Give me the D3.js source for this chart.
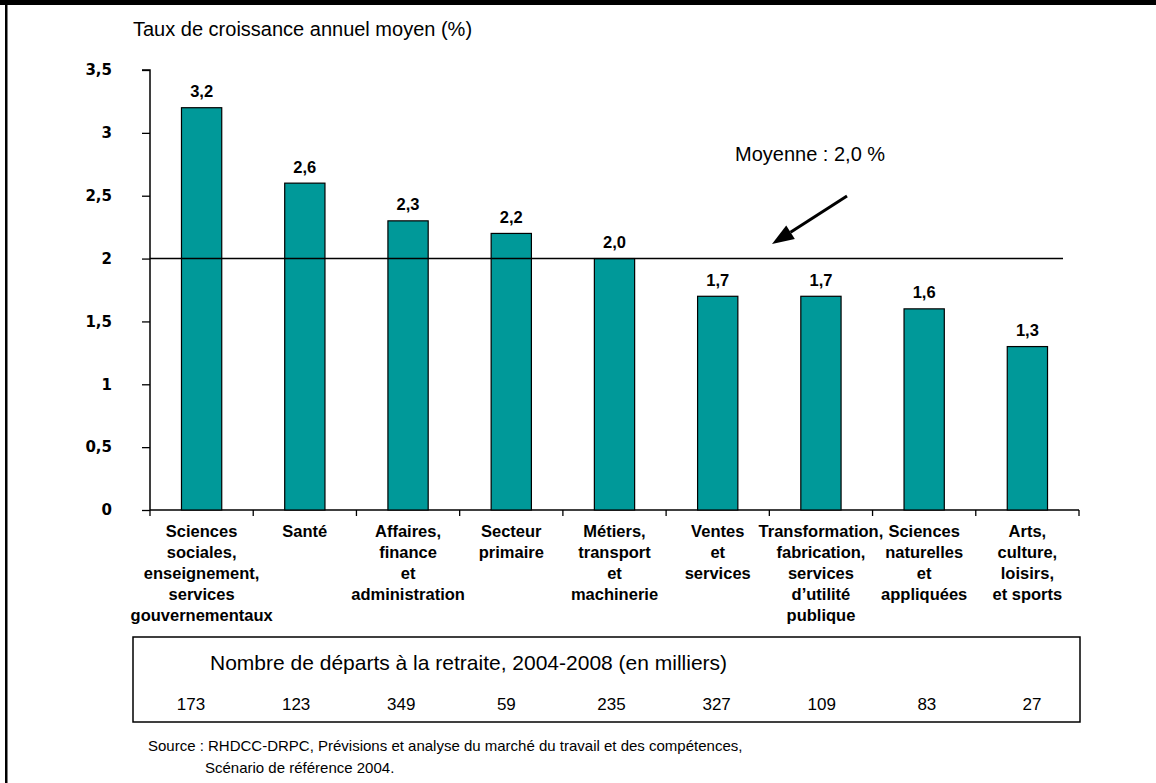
<!DOCTYPE html>
<html lang="fr">
<head>
<meta charset="utf-8">
<script src="https://cdn.jsdelivr.net/npm/d3@7"></script>
<style>
  html, body { margin: 0; padding: 0; background: #fff; }
  svg { display: block; font-family: Arial, "Liberation Sans", sans-serif; }
</style>
</head>
<body>
<svg id="chart" width="1156" height="783"></svg>
<script>
// Occupational groups (multi-line labels)
const categories = [
  ["Sciences", "sociales,", "enseignement,", "services", "gouvernementaux"],
  ["Santé"],
  ["Affaires,", "finance", "et", "administration"],
  ["Secteur", "primaire"],
  ["Métiers,", "transport", "et", "machinerie"],
  ["Ventes", "et", "services"],
  ["Transformation,", "fabrication,", "services", "d’utilité", "publique"],
  ["Sciences", "naturelles", "et", "appliquées"],
  ["Arts,", "culture,", "loisirs,", "et sports"]
];
// Average annual growth rate (%)
const growth = [3.2, 2.6, 2.3, 2.2, 2.0, 1.7, 1.7, 1.6, 1.3];
// Retirements 2004-2008 (thousands)
const retirements = [173, 123, 349, 59, 235, 327, 109, 83, 27];
const average = 2.0;
const yTicks = [0, 0.5, 1, 1.5, 2, 2.5, 3, 3.5];

const fmt = v => String(v).replace(".", ",");
const fmt1 = v => v.toFixed(1).replace(".", ",");

const svg = d3.select("#chart");

// outer frame: thick top edge, left edge
svg.append("rect").attr("x", 0).attr("y", 0).attr("width", 1156).attr("height", 5).attr("fill", "#000");
svg.append("rect").attr("x", 5).attr("y", 0).attr("width", 2.5).attr("height", 783).attr("fill", "#000");

const x = d3.scaleBand().domain(d3.range(categories.length)).range([150, 1079]);
const y = d3.scaleLinear().domain([0, 3.5]).range([510, 70]);
const barW = x.bandwidth() * 0.39;
const cx = i => x(i) + x.bandwidth() / 2;

// y axis title
svg.append("text").attr("x", 133).attr("y", 36).attr("font-size", 20)
  .text("Taux de croissance annuel moyen (%)");

// y axis
const yAxis = d3.axisLeft(y).tickValues(yTicks).tickFormat(fmt).tickSize(8).tickPadding(30);
const gy = svg.append("g").attr("transform", "translate(150,0)").call(yAxis);
gy.select(".domain").attr("stroke", "#000").attr("stroke-width", 1.5).attr("d", `M-8,${y(3.5)}H0V${y(0)}`);
gy.selectAll(".tick line").attr("stroke", "#000").attr("stroke-width", 1.3);
gy.selectAll(".tick text").attr("font-family", "'DejaVu Sans', Verdana, sans-serif")
  .attr("font-weight", "bold").attr("font-size", 15).attr("fill", "#000");

// x axis baseline with category boundary ticks
const boundaries = d3.range(categories.length).map(i => x(i)).concat([x.range()[1]]);
svg.append("line").attr("x1", 150).attr("x2", 1079).attr("y1", y(0)).attr("y2", y(0))
  .attr("stroke", "#000").attr("stroke-width", 1.5);
svg.append("g").selectAll("line").data(boundaries).join("line")
  .attr("x1", d => d).attr("x2", d => d).attr("y1", y(0)).attr("y2", y(0) + 6)
  .attr("stroke", "#000").attr("stroke-width", 1.3);

// bars
svg.append("g").selectAll("rect").data(growth).join("rect")
  .attr("x", (d, i) => cx(i) - barW / 2)
  .attr("y", d => y(d))
  .attr("width", barW)
  .attr("height", d => y(0) - y(d))
  .attr("fill", "#009999")
  .attr("stroke", "#000")
  .attr("stroke-width", 1.2);

// value labels
svg.append("g").selectAll("text").data(growth).join("text")
  .attr("x", (d, i) => cx(i))
  .attr("y", d => y(d) - 10.5)
  .attr("text-anchor", "middle")
  .attr("font-weight", "bold").attr("font-size", 16.5)
  .text(fmt1);

// average line
svg.append("line").attr("x1", 150).attr("x2", 1063).attr("y1", y(average)).attr("y2", y(average))
  .attr("stroke", "#000").attr("stroke-width", 1.5);

// arrow pointing at the average line
const a0 = [847, 196], a1 = [772, 244];
const ang = Math.atan2(a1[1] - a0[1], a1[0] - a0[0]);
const headLen = 22, headHalf = 8;
const base = [a1[0] - headLen * Math.cos(ang), a1[1] - headLen * Math.sin(ang)];
svg.append("line").attr("x1", a0[0]).attr("y1", a0[1]).attr("x2", base[0]).attr("y2", base[1])
  .attr("stroke", "#000").attr("stroke-width", 3);
svg.append("path")
  .attr("d", d3.line()([
    a1,
    [base[0] + headHalf * Math.sin(ang), base[1] - headHalf * Math.cos(ang)],
    [base[0] - headHalf * Math.sin(ang), base[1] + headHalf * Math.cos(ang)]
  ]) + "Z")
  .attr("fill", "#000");
svg.append("text").attr("x", 735).attr("y", 161).attr("font-size", 20)
  .text("Moyenne : " + fmt1(average) + " %");

// category labels
const cat = svg.append("g").selectAll("text").data(categories).join("text")
  .attr("text-anchor", "middle")
  .attr("font-weight", "bold").attr("font-size", 16.5);
cat.each(function(lines, i) {
  d3.select(this).selectAll("tspan").data(lines).join("tspan")
    .attr("x", cx(i))
    .attr("y", (l, j) => 537 + j * 21)
    .text(l => l);
});

// retirement table
svg.append("rect").attr("x", 133).attr("y", 637).attr("width", 947).attr("height", 85)
  .attr("fill", "none").attr("stroke", "#000").attr("stroke-width", 1.5);
svg.append("text").attr("x", 210).attr("y", 670).attr("font-size", 21)
  .text("Nombre de départs à la retraite, 2004-2008 (en milliers)");
const col = d3.scalePoint().domain(d3.range(retirements.length)).range([191, 1032]);
svg.append("g").selectAll("text").data(retirements).join("text")
  .attr("x", (d, i) => col(i))
  .attr("y", 710)
  .attr("text-anchor", "middle")
  .attr("font-size", 17)
  .text(d => d);

// source note
svg.append("text").attr("x", 148).attr("y", 751).attr("font-size", 15)
  .text("Source : RHDCC-DRPC, Prévisions et analyse du marché du travail et des compétences,");
svg.append("text").attr("x", 205).attr("y", 773).attr("font-size", 15)
  .text("Scénario de référence 2004.");
</script>
</body>
</html>
